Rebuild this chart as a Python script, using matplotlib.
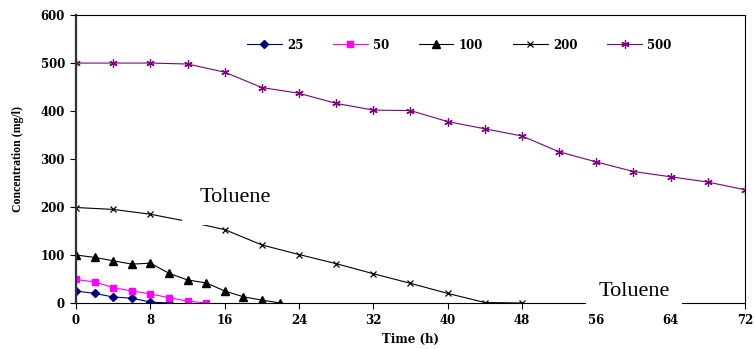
import matplotlib.pyplot as plt

# Toluene degradation at different initial concentrations (mg/l)
t_25 = [0, 2, 4, 6, 8, 10]
c_25 = [25, 20, 12.5, 10, 2, 0]

t_50 = [0, 2, 4, 6, 8, 10, 12, 14]
c_50 = [49, 44, 32, 25, 19, 11, 4, 0]

t_100 = [0, 2, 4, 6, 8, 10, 12, 14, 16, 18, 20, 22]
c_100 = [100, 95, 88, 81, 83, 62, 48, 42, 25, 13, 6, 0]

t_200 = [0, 4, 8, 12, 16, 20, 24, 28, 32, 36, 40, 44, 48]
c_200 = [199, 195, 185, 170, 153, 121, 101, 82, 61, 41, 20, 1, 0]

t_500 = [0, 4, 8, 12, 16, 20, 24, 28, 32, 36, 40, 44, 48, 52, 56, 60, 64, 68, 72]
c_500 = [500, 500, 500, 498, 481, 449, 437, 416, 402, 401, 378, 363, 348,
         315, 294, 274, 263, 252, 236]

x_ticks = [0, 8, 16, 24, 32, 40, 48, 56, 64, 72]
y_ticks = [0, 100, 200, 300, 400, 500, 600]

serif = "Liberation Serif"
wide = "DejaVu Serif"

fig = plt.figure(figsize=(7.55, 3.49), dpi=100)
ax = fig.add_axes([0.1007, 0.1318, 0.886, 0.825])

ax.plot(t_25, c_25, color="#000080", marker="D", markersize=4, lw=0.8, label="25")
ax.plot(t_50, c_50, color="#FF00FF", marker="s", markersize=5, lw=0.8, label="50")
ax.plot(t_100, c_100, color="black", marker="^", markersize=6, lw=0.8, label="100")
ax.plot(t_200, c_200, color="black", marker="x", markersize=5, mew=0.9, lw=0.8, label="200")
ax.plot(t_500, c_500, color="#800080", marker=(6, 2, 0), markersize=6, mew=0.9,
        lw=0.8, label="500")

ax.set_xlim(0, 72)
ax.set_ylim(0, 600)
ax.set_xticks(x_ticks)
ax.set_yticks(y_ticks)
for lab in ax.get_xticklabels() + ax.get_yticklabels():
    lab.set_fontfamily(wide)
    lab.set_fontweight("bold")
    lab.set_fontsize(8.5)
ax.tick_params(axis="both", direction="out", length=4, width=0.8, pad=4)

for side in ["top", "right", "bottom"]:
    ax.spines[side].set_linewidth(0.8)
ax.spines["left"].set_linewidth(1.6)
ax.spines["left"].set_color("#333333")

ax.set_xlabel("Time (h)", fontfamily=wide, fontweight="bold", fontsize=8.5, labelpad=4)
ax.set_ylabel("Concentration (mg/l)", fontfamily=serif, fontweight="bold", fontsize=8.5,
              labelpad=12)

# "Toluene" labels sit on white boxes that hide what is beneath them
ax.text(13.3, 219, "Toluene", fontfamily=serif, fontsize=16, ha="left", va="center",
        bbox=dict(boxstyle="square,pad=0.8", facecolor="white", edgecolor="none"),
        zorder=5)
ax.text(56.2, 25, "Toluene", fontfamily=serif, fontsize=16, ha="left", va="center",
        bbox=dict(boxstyle="square,pad=0.55", facecolor="white", edgecolor="none"),
        zorder=5)

leg = ax.legend(loc="center", bbox_to_anchor=(0.573, 0.896), ncol=5, frameon=False,
                handlelength=2.9, columnspacing=2.55, handletextpad=0.45,
                prop={"family": wide, "weight": "bold", "size": 8.5})

fig.savefig("out.png", dpi=100)
